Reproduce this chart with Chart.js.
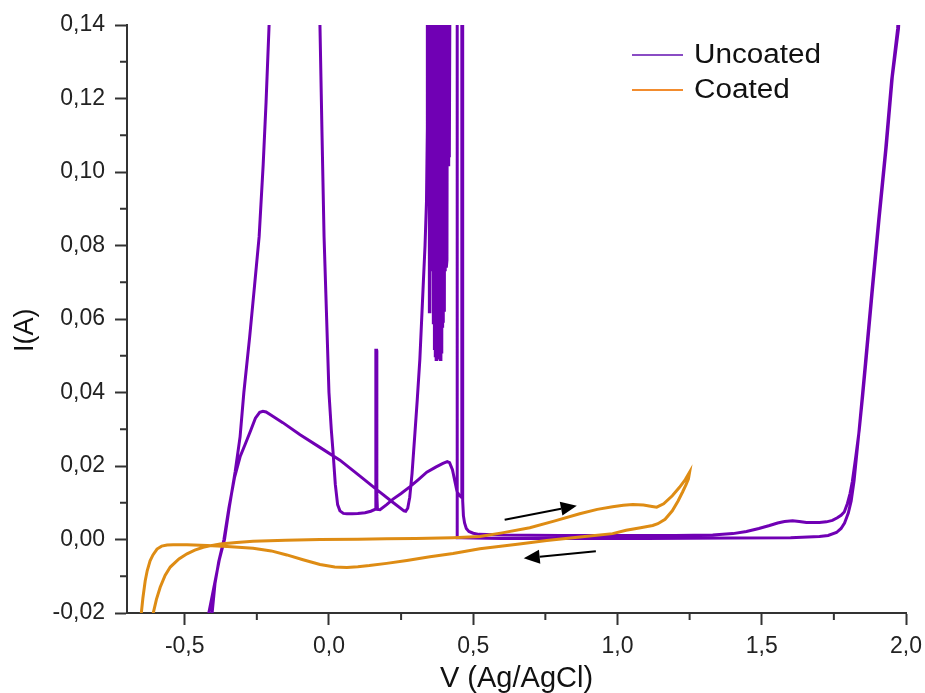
<!DOCTYPE html>
<html>
<head>
<meta charset="utf-8">
<script src="https://cdn.jsdelivr.net/npm/chart.js@4.4.1/dist/chart.umd.min.js"></script>
<style>
  html, body { margin: 0; padding: 0; background: #fff; }
  #wrap { width: 925px; height: 693px; }
</style>
</head>
<body>
<div id="wrap"><canvas id="cv" width="925" height="693"></canvas></div>
<script>
// series names / colours
const seriesNames = ['Uncoated', 'Coated'];
const seriesColors = ['#7000B4', '#DE8C14'];
const legendColors = ['#8A4CC4', '#F28C2E'];

// Uncoated cycle, [V, I] in sweep order (values past 0.14 run off the top)
const uncoatedCurve = [
  [-0.44, -0.03], [-0.419, -0.021], [-0.40, -0.0135], [-0.38, -0.0055], [-0.362, 0.0],
  [-0.345, 0.009], [-0.325, 0.0185], [-0.308, 0.028], [-0.295, 0.040], [-0.275, 0.055],
  [-0.258, 0.069], [-0.242, 0.0824], [-0.228, 0.102], [-0.218, 0.119], [-0.208, 0.139],
  [-0.2, 0.155], [-0.15, 0.25], [-0.08, 0.25], [-0.035, 0.155], [-0.031, 0.139],
  [-0.024, 0.11], [-0.017, 0.0824], [-0.008, 0.06], [0.0, 0.04], [0.008, 0.03],
  [0.014, 0.024], [0.022, 0.015], [0.03, 0.0095], [0.038, 0.0078], [0.05, 0.0071],
  [0.062, 0.007], [0.08, 0.007], [0.1, 0.0071], [0.125, 0.0073], [0.145, 0.0077],
  [0.16, 0.0082], [0.162, 0.045], [0.163, 0.0515], [0.165, 0.0515], [0.166, 0.012],
  [0.168, 0.0082], [0.177, 0.0081], [0.2, 0.0095], [0.222, 0.011], [0.25, 0.0125],
  [0.28, 0.0143], [0.31, 0.0163], [0.339, 0.0183], [0.37, 0.0197], [0.395, 0.0207],
  [0.41, 0.0212], [0.418, 0.0209], [0.428, 0.019], [0.436, 0.016], [0.444, 0.013],
  [0.452, 0.012], [0.459, 0.0115], [0.4605, 0.155], [0.4625, 0.155], [0.4635, 0.0105],
  [0.466, 0.0065], [0.47, 0.0045], [0.476, 0.003], [0.485, 0.0022], [0.5, 0.0017],
  [0.52, 0.0014], [0.6, 0.0012], [0.8, 0.0011], [1.0, 0.0011], [1.2, 0.0011],
  [1.33, 0.0012], [1.4, 0.0016], [1.447, 0.0022], [1.49, 0.003], [1.527, 0.0038],
  [1.555, 0.0045], [1.579, 0.0049], [1.607, 0.0051], [1.63, 0.0049], [1.655, 0.0046],
  [1.7, 0.0046], [1.724, 0.0048], [1.745, 0.0052], [1.762, 0.0059], [1.775, 0.0066],
  [1.786, 0.0075], [1.797, 0.0098], [1.806, 0.0125], [1.814, 0.0158], [1.825, 0.022],
  [1.838, 0.0298], [1.85, 0.039], [1.862, 0.049], [1.884, 0.068], [1.908, 0.088],
  [1.932, 0.107], [1.953, 0.126], [1.974, 0.139], [1.985, 0.155],
  // reverse sweep
  [1.982, 0.155], [1.971, 0.139], [1.95, 0.125], [1.929, 0.106], [1.905, 0.087],
  [1.881, 0.067], [1.859, 0.048], [1.836, 0.0285], [1.82, 0.016], [1.81, 0.0105],
  [1.8, 0.0072], [1.787, 0.0045], [1.775, 0.003], [1.759, 0.0019], [1.73, 0.0011],
  [1.7, 0.0008], [1.6, 0.0005], [1.4, 0.0004], [1.1, 0.0003], [0.8, 0.0003],
  [0.6, 0.0003], [0.5, 0.0004], [0.46, 0.0005], [0.4455, 0.0005], [0.4445, 0.155],
  // noisy breakdown band
  [0.4195, 0.155], [0.418, 0.104], [0.4165, 0.155], [0.415, 0.102], [0.4135, 0.155],
  [0.412, 0.104], [0.4105, 0.155], [0.409, 0.076], [0.4075, 0.155], [0.406, 0.074],
  [0.4045, 0.155], [0.403, 0.073], [0.4015, 0.155], [0.400, 0.062], [0.3985, 0.155],
  [0.397, 0.059], [0.3955, 0.155], [0.394, 0.058], [0.3925, 0.155], [0.391, 0.051],
  [0.3895, 0.155], [0.388, 0.049], [0.3865, 0.155], [0.385, 0.050], [0.3835, 0.155],
  [0.382, 0.049], [0.3805, 0.155], [0.379, 0.051], [0.3775, 0.155], [0.376, 0.052],
  [0.3745, 0.155], [0.373, 0.049], [0.3715, 0.155], [0.370, 0.050], [0.3685, 0.155],
  [0.367, 0.052], [0.3655, 0.155], [0.364, 0.059], [0.3625, 0.155], [0.361, 0.060],
  [0.3595, 0.155], [0.358, 0.074], [0.3565, 0.155], [0.355, 0.075], [0.3535, 0.155],
  [0.352, 0.073], [0.3505, 0.155], [0.3495, 0.062], [0.348, 0.155], [0.3465, 0.104],
  [0.345, 0.155], [0.3435, 0.108], [0.342, 0.155],
  [0.341, 0.112], [0.338, 0.092], [0.333, 0.08], [0.326, 0.068], [0.315, 0.049],
  [0.306, 0.038], [0.298, 0.029], [0.288, 0.018], [0.28, 0.0115], [0.273, 0.0085],
  [0.266, 0.0077], [0.26, 0.0078], [0.22, 0.0102], [0.17, 0.0133], [0.1, 0.0177],
  [0.038, 0.0216], [-0.03, 0.025], [-0.1, 0.0285], [-0.16, 0.0318], [-0.2, 0.0338],
  [-0.218, 0.0347], [-0.229, 0.0349], [-0.24, 0.0346], [-0.255, 0.033], [-0.272, 0.0295],
  [-0.29, 0.026], [-0.308, 0.0225], [-0.327, 0.017], [-0.347, 0.0085], [-0.364, 0.0],
  [-0.382, -0.006], [-0.395, -0.012], [-0.405, -0.02], [-0.41, -0.025]
];

// Coated cycle, [V, I]
const coatedCurve = [
  [-0.615, -0.028], [-0.609, -0.02], [-0.598, -0.0163], [-0.585, -0.013], [-0.568, -0.0098],
  [-0.55, -0.0075], [-0.52, -0.0053], [-0.492, -0.0039], [-0.465, -0.0029], [-0.436, -0.0021],
  [-0.405, -0.0016], [-0.377, -0.0012], [-0.32, -0.0008], [-0.263, -0.0005], [-0.15, -0.0002],
  [-0.031, 0.0], [0.1, 0.0001], [0.2, 0.0002], [0.3, 0.0003], [0.43, 0.0005],
  [0.523, 0.0008], [0.6, 0.0018], [0.696, 0.0032], [0.78, 0.005], [0.869, 0.007],
  [0.93, 0.0082], [0.983, 0.0089], [1.02, 0.0093], [1.053, 0.0095], [1.09, 0.0094],
  [1.12, 0.009], [1.136, 0.0088], [1.16, 0.0097], [1.19, 0.0119], [1.215, 0.0142],
  [1.235, 0.0163], [1.25, 0.0183],
  [1.246, 0.0165], [1.238, 0.015], [1.226, 0.013], [1.21, 0.0105], [1.19, 0.0078],
  [1.165, 0.0055], [1.14, 0.0043], [1.122, 0.0038], [1.08, 0.0032], [1.03, 0.0025],
  [0.983, 0.0016], [0.87, 0.0007], [0.755, -0.0003], [0.66, -0.0012], [0.523, -0.0025],
  [0.43, -0.0038], [0.35, -0.0047], [0.27, -0.0057], [0.2, -0.0065], [0.14, -0.0071],
  [0.1, -0.0074], [0.062, -0.0076], [0.02, -0.0075], [-0.031, -0.0068], [-0.09, -0.0055],
  [-0.146, -0.0042], [-0.2, -0.0031], [-0.263, -0.0024], [-0.353, -0.0019], [-0.422, -0.0016],
  [-0.492, -0.0014], [-0.54, -0.0014], [-0.561, -0.0015], [-0.58, -0.0018], [-0.596, -0.0026],
  [-0.61, -0.0042], [-0.62, -0.0058], [-0.63, -0.0085], [-0.637, -0.0113], [-0.645, -0.016],
  [-0.651, -0.0205], [-0.655, -0.026]
];

// axis ticks
const xTicks = [-0.5, 0, 0.5, 1.0, 1.5, 2.0];
const xMinorTicks = [-0.25, 0.25, 0.75, 1.25, 1.75];
const yTicks = [-0.02, 0, 0.02, 0.04, 0.06, 0.08, 0.10, 0.12, 0.14];
const yMinorTicks = [-0.01, 0.01, 0.03, 0.05, 0.07, 0.09, 0.11, 0.13];

// sweep direction arrows, in data units
const arrowFrom = [[0.609, 0.0054], [0.925, -0.0032]];
const arrowTo = [[0.859, 0.0092], [0.675, -0.0051]];

const FONT = "'Liberation Sans', Arial, sans-serif";
const AXIS = '#333';

// short outward minor ticks
const minorTicks = {
  id: 'minorTicks',
  afterDraw(chart) {
    const { ctx, chartArea, scales } = chart;
    ctx.save();
    ctx.strokeStyle = AXIS;
    ctx.lineWidth = 2;
    ctx.beginPath();
    xMinorTicks.forEach(v => {
      const px = scales.x.getPixelForValue(v);
      ctx.moveTo(px, chartArea.bottom);
      ctx.lineTo(px, chartArea.bottom + 7);
    });
    yMinorTicks.forEach(v => {
      const py = scales.y.getPixelForValue(v);
      ctx.moveTo(chartArea.left, py);
      ctx.lineTo(chartArea.left - 7, py);
    });
    ctx.stroke();
    ctx.restore();
  }
};

const sweepArrows = {
  id: 'sweepArrows',
  afterDatasetsDraw(chart) {
    const { ctx, scales } = chart;
    ctx.save();
    ctx.strokeStyle = '#000';
    ctx.fillStyle = '#000';
    ctx.lineWidth = 2;
    arrowFrom.forEach((f, i) => {
      const t = arrowTo[i];
      const x1 = scales.x.getPixelForValue(f[0]), y1 = scales.y.getPixelForValue(f[1]);
      const x2 = scales.x.getPixelForValue(t[0]), y2 = scales.y.getPixelForValue(t[1]);
      const a = Math.atan2(y2 - y1, x2 - x1);
      const hl = 16, hw = 7;
      ctx.beginPath();
      ctx.moveTo(x1, y1);
      ctx.lineTo(x2 - hl * Math.cos(a), y2 - hl * Math.sin(a));
      ctx.stroke();
      ctx.beginPath();
      ctx.moveTo(x2, y2);
      ctx.lineTo(x2 - hl * Math.cos(a) + hw * Math.sin(a), y2 - hl * Math.sin(a) - hw * Math.cos(a));
      ctx.lineTo(x2 - hl * Math.cos(a) - hw * Math.sin(a), y2 - hl * Math.sin(a) + hw * Math.cos(a));
      ctx.closePath();
      ctx.fill();
    });
    ctx.restore();
  }
};

// legend in the top right corner of the plot
const cornerLegend = {
  id: 'cornerLegend',
  afterDraw(chart) {
    const ctx = chart.ctx;
    ctx.save();
    ctx.font = '27px ' + FONT;
    ctx.textBaseline = 'middle';
    seriesNames.forEach((name, i) => {
      const y = 55 + i * 35;
      ctx.strokeStyle = legendColors[i];
      ctx.lineWidth = 2;
      ctx.beginPath();
      ctx.moveTo(632, y);
      ctx.lineTo(683, y);
      ctx.stroke();
      ctx.save();
      ctx.translate(694, y + 1);
      ctx.scale(1.1, 1);
      ctx.fillStyle = '#111';
      ctx.fillText(name, 0, 0);
      ctx.restore();
    });
    ctx.restore();
  }
};

const toPoints = arr => arr.map(([x, y]) => ({ x, y }));

new Chart(document.getElementById('cv'), {
  type: 'scatter',
  data: {
    datasets: [
      { label: seriesNames[0], data: toPoints(uncoatedCurve), borderColor: seriesColors[0],
        showLine: true, pointRadius: 0, borderWidth: 3, clip: 0, order: 2 },
      { label: seriesNames[1], data: toPoints(coatedCurve), borderColor: seriesColors[1],
        showLine: true, pointRadius: 0, borderWidth: 3, clip: 0, order: 1 }
    ]
  },
  options: {
    responsive: false,
    animation: false,
    layout: { padding: { left: 0, right: 19, top: 25, bottom: 0 } },
    plugins: { legend: { display: false }, tooltip: { enabled: false } },
    scales: {
      x: {
        type: 'linear', min: -0.7, max: 2.0,
        afterBuildTicks: s => { s.ticks = xTicks.map(v => ({ value: v })); },
        afterFit: s => { s.height = 80; s.paddingLeft = 0; s.paddingRight = 0; },
        ticks: {
          callback: v => v.toFixed(1).replace('.', ','),
          font: { family: FONT, size: 23 }, color: '#222', padding: 8,
          maxRotation: 0, autoSkip: false
        },
        grid: { drawOnChartArea: false, tickLength: 12, tickWidth: 2, tickColor: AXIS },
        border: { color: AXIS, width: 2 },
        title: { display: true, text: 'V (Ag/AgCl)', color: '#111', padding: 0,
                 font: { family: FONT, size: 29, lineHeight: 1 } }
      },
      y: {
        type: 'linear', min: -0.02, max: 0.14,
        afterBuildTicks: s => { s.ticks = yTicks.map(v => ({ value: v })); },
        afterFit: s => { s.width = 127; s.paddingTop = 0; s.paddingBottom = 0; },
        ticks: {
          callback: v => v.toFixed(2).replace('.', ','),
          font: { family: FONT, size: 23 }, color: '#222', padding: 10, autoSkip: false
        },
        grid: { drawOnChartArea: false, tickLength: 12, tickWidth: 2, tickColor: AXIS },
        border: { color: AXIS, width: 2 },
        title: { display: true, text: 'I(A)\u00a0\u00a0\u00a0', color: '#111',
                 padding: { top: 12, bottom: 0 },
                 font: { family: FONT, size: 27, lineHeight: 1 } }
      }
    }
  },
  plugins: [minorTicks, sweepArrows, cornerLegend]
});
</script>
</body>
</html>
